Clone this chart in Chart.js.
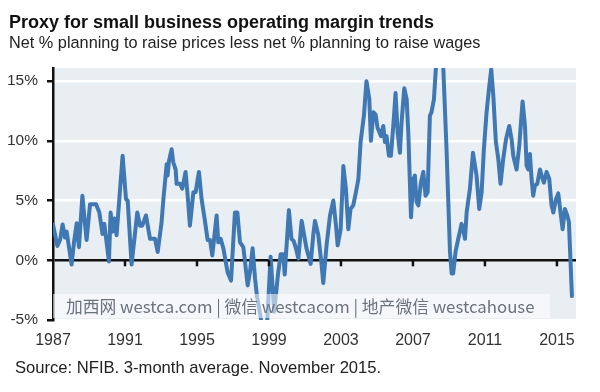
<!DOCTYPE html>
<html>
<head>
<meta charset="utf-8">
<script src="https://cdn.jsdelivr.net/npm/chart.js@4.4.1/dist/chart.umd.min.js"></script>
<style>
html,body{margin:0;padding:0;background:#fff;}
#wrap{position:relative;width:600px;height:392px;overflow:hidden;font-family:"Liberation Sans",Arial,sans-serif;}
#c{position:absolute;left:0;top:0;}
.t{position:absolute;white-space:nowrap;line-height:1;}
#title{left:9px;top:13px;font-size:18px;font-weight:bold;color:#111;}
#sub{left:9px;top:34px;font-size:16.3px;color:#222;}
#src{left:15px;top:360px;font-size:16.6px;color:#222;}
#wm{position:absolute;left:53px;top:294px;width:497px;height:24px;background:rgba(255,255,255,0.55);
  font-family:"Noto Sans CJK SC",sans-serif;font-size:16.8px;line-height:24px;color:#69727d;white-space:nowrap;}
#wm span{position:absolute;left:13px;top:0;}
</style>
</head>
<body>
<div id="wrap">
  <canvas id="c" width="600" height="392"></canvas>
  <div class="t" id="title">Proxy for small business operating margin trends</div>
  <div class="t" id="sub">Net % planning to raise prices less net % planning to raise wages</div>
  <div class="t" id="src">Source: NFIB. 3-month average. November 2015.</div>
  <div id="wm"><span>加西网 westca.com | 微信 westcacom | 地产微信 westcahouse</span></div>
</div>
<script>
// months since Jan 1987 (turning points of the 3-month avg line)
const monthIdx = [
  0,2.9,4.7,6.4,8,9.1,12.4,14,15.8,17.3,19.6,21,22.4,24.7,28.7,30.9,33,34.2,37.3,38.4,39.8,40.9,42.4,46.4,48.7,49.8,52.4,56.2,58,59.5,62,64.7,68,69.8,
  72.4,73.6,75.8,76.4,77.3,79.1,80.2,81.8,82.4,84.7,86.2,88.4,89.8,91.3,93.6,95.1,97.3,99.1,101.3,103.1,104.7,106.2,109.1,110.2,111.8,113.6,116.4,118.7,121.3,122.9,124.7,126.9,129.8,131.3,133.1,134.7,
  136,139.3,142.7,145.1,147.5,150,151.8,153.5,154.5,155.3,157.3,159,160.5,162,163.6,165.8,169,171.8,173.6,174.7,176.9,179.1,180.2,182.4,184.7,186.9,188.7,189.8,191.8,193.6,195.3,196.9,198.4,200.2,202,203.6,205.1,207.3,
  209,210.9,212,213.6,215.1,216.4,218.7,220.2,221.3,222.4,224,225.3,226.9,228.4,229.8,231.3,232.4,234.2,235.8,236.9,238.7,240.2,241.3,242.4,243.6,245.3,246.9,248.4,249.8,251.3,252.4,254,255.5,257.5,260.2,262.4,264.7,265.8,266.8,268.4,270.2,271.3,272.4,273.3,274.7,275.8,
  278,280,282.4,284.2,285.8,287.3,289.1,290.9,292.2,293.6,295.3,296.9,298.4,300.2,302,304.2,305.8,306.9,309.1,310.9,313.1,314.7,315.8,316.9,318,319.1,320.2,321.3,322.9,324.7,325.8,327.3,329.1,330.9,332.4,333.6,335.3,336.9,338.4,339.8,341.3,342.9,344,346
];
const margin = [
  3.0,1.2,1.7,3.0,1.9,2.4,-0.35,1.5,3.1,1.1,5.4,3.5,1.7,4.7,4.7,4.0,2.2,3.05,-0.1,4.0,2.4,3.5,2.1,8.75,5.1,5.0,-0.35,4.0,2.9,2.9,3.75,1.8,1.8,0.7,
  3.2,5.1,8.05,7.1,8.3,9.3,8.2,7.6,6.4,6.4,6.0,7.4,5.4,2.9,5.7,5.7,7.4,5.1,3.3,1.7,1.7,0.4,3.75,1.5,1.8,1.0,-1.0,-1.7,4.0,4.0,1.5,1.1,-2.1,-1.0,1.0,-1.5,
  -3.0,-5.4,-5.4,0.3,-4.3,-1.2,0.5,0.5,-1.2,0.4,4.2,1.8,1.6,1.0,0.15,3.3,1.0,-0.3,2.2,3.3,2.1,-0.4,-1.9,1.25,3.75,5.0,2.9,1.25,2.6,7.9,6.0,2.6,4.3,4.6,5.7,6.8,9.9,12.1,
  15.0,13.5,10.0,12.4,12.2,11.1,10.4,11.25,9.9,10.4,8.75,8.75,11.25,14.0,10.7,9.0,11.5,14.4,13.5,10.7,3.6,6.8,7.1,4.9,4.6,6.5,7.4,5.4,5.7,12.1,12.4,13.5,16.5,19.5,16.2,9.3,0.7,-1.1,-1.1,0.7,1.8,2.4,3.05,2.7,1.8,4.0,
  6.0,9.0,7.1,4.3,5.7,9.3,12.4,14.6,16.0,13.75,9.9,8.5,6.4,8.5,10.1,11.25,10.1,8.75,7.6,9.6,13.3,11.25,7.9,7.6,8.9,6.8,5.4,6.25,6.4,7.6,7.1,6.5,7.4,6.8,4.6,4.0,5.1,5.6,4.0,2.6,4.3,3.75,3.2,-3.0
];
const xTicks = [1987,1991,1995,1999,2003,2007,2011,2015];
const xTickLabels = ["1987","1991","1995","1999","2003","2007","2011","2015"];
const yTicks = [-5,0,5,10,15];
const yTickLabels = ["-5%","0%","5%","10%","15%"];

const plotBg = {
  id: "plotBg",
  beforeDraw(chart){
    const {ctx, chartArea:a} = chart;
    ctx.save(); ctx.fillStyle = "#e9eef3";
    ctx.fillRect(a.left, a.top, a.right-a.left, a.bottom-a.top); ctx.restore();
  }
};
// small tick marks hanging under the zero line
const zeroTicks = {
  id: "zeroTicks",
  afterDatasetsDraw(chart){
    const {ctx, scales:{x, y}} = chart;
    const y0 = y.getPixelForValue(0);
    ctx.save(); ctx.strokeStyle = "#111"; ctx.lineWidth = 2.5;
    x.ticks.forEach(t=>{
      const px = x.getPixelForValue(t.value);
      if (px < x.left + 3) return;
      ctx.beginPath(); ctx.moveTo(px, y0); ctx.lineTo(px, y0+6); ctx.stroke();
    });
    ctx.restore();
  }
};

const pts = monthIdx.map((m,i)=>({x: 1987 + m/12, y: margin[i]}));

new Chart(document.getElementById("c"), {
  type: "line",
  data: { datasets: [{ data: pts, borderColor: "#3f78b3", borderWidth: 4, pointRadius: 0,
    tension: 0, clip: 0, borderJoinStyle: "round", borderCapStyle: "round" }] },
  options: {
    responsive: false, animation: false, devicePixelRatio: 1,
    layout: { padding: { top: 68, right: 24, bottom: 42, left: 0 } },
    plugins: { legend: { display: false }, tooltip: { enabled: false } },
    scales: {
      x: {
        type: "linear", min: 1987, max: 2016.06,
        afterBuildTicks: s => { s.ticks = xTicks.map(v=>({value:v})); },
        afterFit: s => { s.height = 30; },
        grid: { display: false, drawTicks: false },
        border: { display: false },
        ticks: { padding: 11, color: "#333", font: { family: "Liberation Sans", size: 16 },
          callback: (v) => xTickLabels[xTicks.indexOf(v)] }
      },
      y: {
        min: -5, max: 16.1,
        afterBuildTicks: s => { s.ticks = yTicks.map(v=>({value:v})); },
        afterFit: s => { s.width = 53; },
        grid: { color: c => c.tick && c.tick.value === 0 ? "#111" : "#fff", lineWidth: 2.5,
          drawTicks: true, tickLength: 6, tickColor: "#111" },
        border: { color: "#111", width: 2.5 },
        ticks: { padding: 9, color: "#333", font: { family: "Liberation Sans", size: 15.5 },
          callback: (v) => yTickLabels[yTicks.indexOf(v)] }
      }
    }
  },
  plugins: [plotBg, zeroTicks]
});
</script>
</body>
</html>
